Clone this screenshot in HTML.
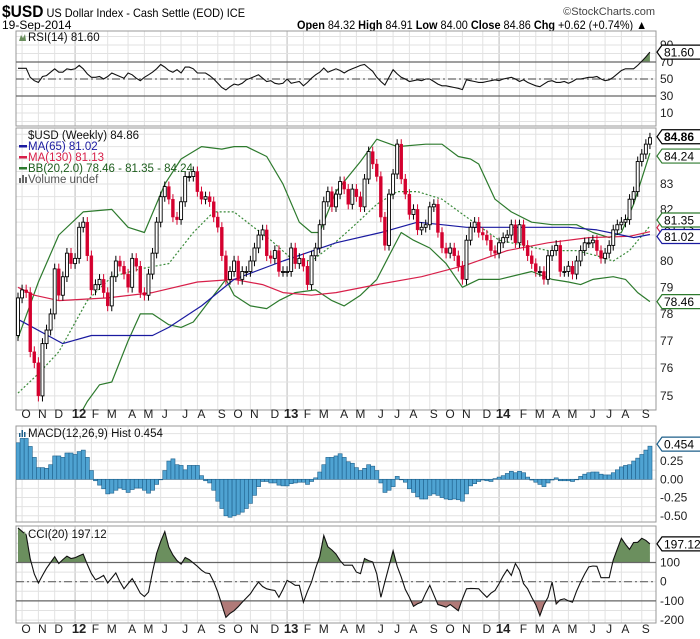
<!DOCTYPE html>
<html><head><meta charset="utf-8"><title>$USD chart</title>
<style>
html,body{margin:0;padding:0;background:#fff;}
svg{display:block;font-family:"Liberation Sans",Arial,sans-serif;}
</style></head>
<body>
<svg id="chart" xmlns="http://www.w3.org/2000/svg" width="700" height="639" viewBox="0 0 700 639">
<rect x="0" y="0" width="700" height="639" fill="#fff"/>
<g>
<text x="2" y="17" textLength="243" lengthAdjust="spacingAndGlyphs" font-size="12" fill="#000"><tspan font-size="17" font-weight="bold">$USD</tspan> US Dollar Index - Cash Settle (EOD) ICE</text>
<text x="655" y="15" text-anchor="end" font-size="11" fill="#444">©StockCharts.com</text>
<text x="2" y="29" font-size="12" fill="#000">19-Sep-2014</text>
<text x="297" y="29" textLength="350" lengthAdjust="spacingAndGlyphs" font-size="12" fill="#000"><tspan font-weight="bold">Open</tspan> 84.32 <tspan font-weight="bold">High</tspan> 84.91 <tspan font-weight="bold">Low</tspan> 84.00 <tspan font-weight="bold">Close</tspan> 84.86 <tspan font-weight="bold">Chg</tspan> +0.62 (+0.74%) ▲</text>
</g>
<g id="grid"></g>
<g id="marks"></g>
<g id="labels"></g>
</svg>
<script>
// ---- data (weekly, first bar 30-Sep-2011, last 19-Sep-2014) ----
const firstOpen = 77.2;
const closes = [78.6,78.9,78.8,76.6,76.2,75.0,76.9,77.4,78.0,79.7,78.7,79.4,80.3,79.9,80.1,81.3,81.5,80.2,78.9,79.1,79.3,78.8,78.3,79.4,80.0,79.8,79.5,79.0,80.1,79.8,78.8,78.7,79.5,80.3,81.5,82.5,82.9,82.4,81.7,81.6,82.3,83.3,83.3,83.5,82.7,82.4,82.5,82.3,81.7,81.3,80.2,79.3,79.6,80.0,79.3,
79.6,79.6,80.0,80.5,81.0,81.2,80.2,80.1,80.4,79.6,79.6,79.6,80.5,79.9,80.1,79.8,79.1,80.2,80.5,81.4,82.3,82.7,82.1,82.6,83.1,82.8,82.2,82.8,82.5,82.1,83.2,84.3,83.8,83.3,81.7,80.6,82.6,83.4,84.6,83.2,82.6,81.8,82.0,81.2,81.3,81.4,82.1,82.2,81.1,80.5,80.3,80.5,80.2,79.8,79.3,80.8,81.3,
81.5,81.1,81.0,80.8,80.4,80.3,80.7,80.9,81.0,81.4,80.7,81.4,80.6,80.2,79.9,79.6,79.6,79.3,80.2,80.4,80.6,79.6,79.6,79.8,79.5,80.0,80.4,80.7,80.7,80.8,80.4,80.1,80.3,80.6,81.2,81.4,81.5,81.6,82.4,82.7,83.9,84.2,84.6,84.86];
const ma65Weeks = [0,11,18,33,37,45,53,65,78,89,98,104,110,120,135,142,148,151,155];
const ma65Vals = [77.8,76.9,77.2,77.2,77.5,78.3,79.3,80.0,80.7,81.1,81.5,81.4,81.3,81.3,81.3,81.2,81.0,80.9,81.02];
const ma130Weeks = [0,4,10,22,33,44,53,60,65,72,78,88,99,110,120,130,140,150,155];
const ma130Vals = [79.0,78.7,78.5,78.6,78.8,79.2,79.3,79.1,78.8,78.7,78.8,79.1,79.4,79.85,80.4,80.7,80.9,80.95,81.13];
const bbMidWeeks = [0,5,10,17,23,30,37,43,48,53,57,62,67,72,77,82,88,93,98,104,110,118,124,130,137,142,146,150,155];
const bbMidVals = [75.1,75.8,76.6,78.5,79.4,79.7,79.9,81.1,81.9,81.9,81.4,80.8,80.1,80.0,80.6,81.3,82.2,82.7,82.7,82.4,81.7,80.8,80.6,80.4,80.4,80.2,80.0,80.4,81.35];
const bbUpWeeks = [0,5,10,16,23,27,31,36,40,45,50,53,56,61,65,69,72,74,78,84,88,93,100,104,108,111,113,117,121,126,131,137,141,145,148,151,155];
const bbUpVals = [77.1,79.2,81.0,81.9,82.0,81.3,81.1,83.0,84.0,84.5,84.4,84.5,84.5,84.1,83.0,81.5,81.1,81.1,82.7,83.9,84.8,84.5,84.6,84.6,84.1,84.0,83.8,82.4,81.9,81.5,81.4,81.4,81.1,80.9,81.1,82.2,84.24];
const bbLoWeeks = [0,5,10,17,20,23,27,30,33,37,40,43,47,51,53,57,61,64,68,73,77,80,84,88,91,94,97,101,105,109,113,118,126,131,135,138,141,146,149,152,155];
const bbLoVals = [73.5,72.5,73.0,74.8,75.4,75.5,77.0,78.0,78.0,77.6,77.5,77.7,78.5,79.3,78.7,78.3,78.2,78.5,78.8,78.9,78.5,78.3,78.7,79.3,80.2,81.1,80.8,80.5,79.9,79.0,79.3,79.3,79.6,79.3,79.2,79.1,79.3,79.4,79.3,78.8,78.46];
const rsiVals = [62.6,62.6,62.6,52,48,46,53,54,58,62,58,58,62,61,62,66,62,56,52,52,53,50,53,57,55,53,51,57,55,51,48,52,55,58,62,67,64,60,58,61,57,64,64,62,57,57,57,54,50,45,40,37,41,44,43,45,49,51,53,55,51,47,48,45,44,45,50,45,46,47,42,46,51,55,58,63,58,60,62,60,57,60,62,64,66,67,63,59,52,47,43,52,61,56,52,50,47,48,49,48,50,50,47,44,42,42,41,40,39,37.5,49,48,47,46,46,47,48,49,48,50,51,52,50,47,49,46,44,42,41,44,47,48,46,46,47,45,47,50,50,51,52,52,53,50,48,49,52,56,60,62,62,62,66,71,76,81.6];
const macdVals = [0.50,0.56,0.56,0.45,0.30,0.16,0.16,0.15,0.20,0.32,0.32,0.30,0.36,0.36,0.34,0.38,0.40,0.30,0.12,-0.02,-0.08,-0.13,-0.20,-0.19,-0.15,-0.12,-0.14,-0.18,-0.14,-0.12,-0.12,-0.15,-0.19,-0.15,-0.07,0.0,0.12,0.25,0.28,0.20,0.19,0.13,0.19,0.19,0.19,0.05,-0.02,-0.05,-0.15,-0.30,-0.40,-0.50,-0.52,-0.50,-0.48,-0.45,-0.40,-0.33,-0.22,-0.10,-0.03,-0.03,-0.05,-0.05,-0.08,-0.09,-0.09,-0.06,-0.05,-0.04,-0.04,-0.07,-0.03,0.02,0.10,0.20,0.30,0.30,0.32,0.35,0.30,0.24,0.22,0.16,0.12,0.15,0.20,0.18,0.12,-0.05,-0.18,-0.15,-0.10,0.04,0.0,-0.04,-0.13,-0.18,-0.24,-0.27,-0.27,-0.22,-0.20,-0.22,-0.25,-0.27,-0.28,-0.27,-0.28,-0.30,-0.20,-0.09,-0.06,-0.03,-0.01,-0.02,-0.03,0.01,0.03,0.05,0.08,0.11,0.09,0.11,0.09,0.03,-0.01,-0.04,-0.07,-0.10,-0.05,-0.01,0.02,-0.02,-0.02,-0.02,-0.03,0.0,0.04,0.07,0.09,0.10,0.10,0.07,0.06,0.06,0.09,0.13,0.17,0.19,0.20,0.25,0.29,0.34,0.40,0.454];
const cciVals = [280,262,244,120,40,-7,33,70,100,130,95,115,133,121,125,135,144,90,42,10,20,33,-7,20,46,0,-37,-10,16,-20,-60,-77,-54,50,147,210,261,180,139,110,91,126,115,98,80,60,46,42,0,-54,-120,-186,-165,-151,-130,-107,-85,-63,-30,-2,-25,-37,-42,-46,-81,-40,7,-5,-19,-19,-107,-50,-2,70,130,240,182,165,144,110,86,86,86,50,42,121,110,103,40,-81,0,80,161,80,25,-40,-81,-128,-115,-107,-60,-19,-70,-119,-125,-133,-119,-135,-151,-90,-37,-35,-36,-37,-60,-81,-60,-46,-10,30,63,33,95,60,-10,-37,-81,-120,-177,-120,-81,-2,-116,-95,-89,-100,-107,-50,-2,40,77,82,80,21,21,21,112,170,226,195,168,204,205,226,215,197];
const priceTicks = [75,76,77,78,79,80,81,82,83,84];
const rsiTicks = [90,70,50,30,10];
const macdTicks = ["0.25","0.00","-0.25","-0.50"];
const cciTicks = [100,0,-100,-200];
const monthLetters = ["J","F","M","A","M","J","J","A","S","O","N","D"];

// ---- geometry ----
const NS = "http://www.w3.org/2000/svg";
const L = 16, R = 656;
const P = {rsi:[31,126], main:[128,410], macd:[426,522], cci:[526,623]};
const xs = i => 18 + i * 4.077;
const priceY = p => 261 - 2090 * Math.log(p / 80);
const rsiY = v => 79 - (v - 50) * 0.85;
const macdY = v => 479.3 - v * 73;
const cciY = v => 581.7 - v * 0.192;

const svg = document.getElementById('chart');
const grid = document.getElementById('grid');
const marks = document.getElementById('marks');
const labels = document.getElementById('labels');
function mk(tag, attrs, parent) {
  const e = document.createElementNS(NS, tag);
  for (const k in attrs) e.setAttribute(k, attrs[k]);
  (parent || marks).appendChild(e);
  return e;
}
// clip paths
const defs = mk('defs', {}, svg);
svg.insertBefore(defs, svg.firstChild);
for (const k in P) {
  const cp = mk('clipPath', {id: 'clip-' + k}, defs);
  mk('rect', {x: L, y: P[k][0], width: R - L, height: P[k][1] - P[k][0]}, cp);
}
function addClip(id, y0, y1) {
  const cp = mk('clipPath', {id: id}, defs);
  mk('rect', {x: L, y: y0, width: R - L, height: y1 - y0}, cp);
}
addClip('clip-rsi-hi', P.rsi[0], rsiY(70));
addClip('clip-cci-hi', P.cci[0], cciY(100));
addClip('clip-cci-lo', cciY(-100), P.cci[1]);

// ---- month grid ----
const base = Date.UTC(2011, 8, 30);
const months = [];
for (let y = 2011; y <= 2014; y++) for (let m = 0; m < 12; m++) {
  const d = Date.UTC(y, m, 1);
  const idx = Math.ceil((d - base) / (7 * 864e5));
  if (idx < 0 || idx > 155) continue;
  months.push({idx: idx, y: y, m: m});
}
months.forEach(mo => {
  const x = xs(mo.idx);
  for (const k in P) {
    const ln = mk('line', {x1: x, x2: x, y1: P[k][0], y2: P[k][1], stroke: mo.m === 0 ? '#bbb' : '#e2e2e2', 'stroke-width': 1}, grid);
    
    
  }
  [418, 633].forEach(ty => {
    const t = mk('text', {x: x + 4, y: ty, 'text-anchor': 'middle', 'font-size': mo.m === 0 ? 13 : 12, 'font-weight': mo.m === 0 ? 'bold' : 'normal', fill: '#222'}, labels);
    t.textContent = mo.m === 0 ? String(mo.y % 100).padStart(2, '0') : monthLetters[mo.m];
    
    
  });
});
// horizontal grids
function hgrid(vals, fy, panel) {
  vals.forEach(v => {
    const y = fy(v);
    if (y < P[panel][0] || y > P[panel][1]) return;
    const ln = mk('line', {x1: L, x2: R, y1: y, y2: y, stroke: '#e2e2e2', 'stroke-width': 1}, grid);
    
    
  });
}
const rsiG = []; for (let v = 0; v <= 100; v += 10) rsiG.push(v);
const priceG = []; for (let v = 74; v <= 86; v += 0.5) priceG.push(v);
const macdG = []; for (let v = -0.625; v <= 0.75; v += 0.125) macdG.push(v);
const cciG = []; for (let v = -250; v <= 300; v += 50) cciG.push(v);
hgrid(rsiG, rsiY, 'rsi'); hgrid(priceG, priceY, 'main'); hgrid(macdG, macdY, 'macd'); hgrid(cciG, cciY, 'cci');

// panel frames
for (const k in P) {
  const r = mk('rect', {x: L, y: P[k][0], width: R - L, height: P[k][1] - P[k][0], fill: 'none', stroke: '#999', 'stroke-width': 1}, grid);
  
  
}

// ---- RSI ----
function linePath(vals, fy) { return vals.map((v, i) => (i ? 'L' : 'M') + xs(i).toFixed(1) + ',' + fy(v).toFixed(1)).join(''); }
function areaPath(vals, fy, level) {
  return 'M' + xs(0) + ',' + fy(level) + vals.map((v, i) => 'L' + xs(i).toFixed(1) + ',' + fy(v).toFixed(1)).join('') + 'L' + xs(vals.length - 1) + ',' + fy(level) + 'Z';
}
const rsiFill = mk('path', {d: areaPath(rsiVals, rsiY, 70), fill: '#6b8f5e', 'clip-path': 'url(#clip-rsi-hi)'});


[[70, 'none'], [30, 'none'], [50, '8 3 2 3']].forEach(a => {
  const ln = mk('line', {x1: L, x2: R, y1: rsiY(a[0]), y2: rsiY(a[0]), stroke: '#666', 'stroke-width': 1.2, 'stroke-dasharray': a[1]});
  
  
});
const rsiLine = mk('path', {d: linePath(rsiVals, rsiY), fill: 'none', stroke: '#111', 'stroke-width': 1.1, 'clip-path': 'url(#clip-rsi)'});



// ---- main price ----
function sparseLine(weeks, vals, color, dash, name, w) {
  const d = weeks.map((wk, i) => (i ? 'L' : 'M') + xs(wk).toFixed(1) + ',' + priceY(vals[i]).toFixed(1)).join('');
  const p = mk('path', {d: d, fill: 'none', stroke: color, 'stroke-width': w || 1.2, 'stroke-dasharray': dash, 'stroke-linejoin': 'round', 'clip-path': 'url(#clip-main)'});
  
  
}
sparseLine(bbMidWeeks, bbMidVals, '#3a8a3a', '2 2', 'bb-middle-line');
sparseLine(bbUpWeeks, bbUpVals, '#2d7a2d', 'none', 'bb-upper-line');
sparseLine(bbLoWeeks, bbLoVals, '#2d7a2d', 'none', 'bb-lower-line');
sparseLine(ma130Weeks, ma130Vals, '#d8204a', 'none', 'ma130-line');
sparseLine(ma65Weeks, ma65Vals, '#1a1aa0', 'none', 'ma65-line');
const cg = mk('g', {'clip-path': 'url(#clip-main)'});


closes.forEach((c, i) => {
  const o = i ? closes[i - 1] : firstOpen;
  const up = c >= o;
  const hi = Math.max(o, c), lo = Math.min(o, c);
  const x = xs(i);
  const col = up ? '#000' : '#d4002e';
  const wk = mk('line', {x1: x, x2: x, y1: priceY(hi + 0.2), y2: priceY(lo - 0.2), stroke: col, 'stroke-width': 1}, cg);
  
  
  const top = priceY(hi), h = Math.max(1, priceY(lo) - top);
  const b = mk('rect', {x: x - 1.5, y: top, width: 3, height: h, fill: up ? '#fff' : '#d4002e', stroke: col, 'stroke-width': up ? 0.9 : 0.4}, cg);
  
  
});

// ---- MACD ----
macdVals.forEach((v, i) => {
  const y0 = macdY(0), y1 = macdY(v);
  const r = mk('rect', {x: xs(i) - 2, y: Math.min(y0, y1), width: 4.077, height: Math.max(0.5, Math.abs(y1 - y0)), fill: '#4fa3d2', stroke: '#1d5f8a', 'stroke-width': 0.6, 'clip-path': 'url(#clip-macd)'});
  
  
});

// ---- CCI ----
const cHi = mk('path', {d: areaPath(cciVals, cciY, 100), fill: '#6b8f5e', 'clip-path': 'url(#clip-cci-hi)'});


const cLo = mk('path', {d: areaPath(cciVals, cciY, -100), fill: '#b07a78', 'clip-path': 'url(#clip-cci-lo)'});


[[100, 'none'], [-100, 'none'], [0, '8 3 2 3']].forEach(a => {
  const ln = mk('line', {x1: L, x2: R, y1: cciY(a[0]), y2: cciY(a[0]), stroke: '#666', 'stroke-width': 1.2, 'stroke-dasharray': a[1]});
  
  
});
const cciLine = mk('path', {d: linePath(cciVals, cciY), fill: 'none', stroke: '#111', 'stroke-width': 1.1, 'clip-path': 'url(#clip-cci)'});



// ---- right axis labels ----
function axisLabels(vals, fy, name) {
  vals.forEach(v => {
    const t = mk('text', {x: 660, y: fy(parseFloat(v)) + 4, 'font-size': 12, fill: '#222'}, labels);
    t.textContent = v;
    
    
  });
}
axisLabels(priceTicks, priceY, 'price-tick-label');
axisLabels(rsiTicks, rsiY, 'rsi-tick-label');
axisLabels(macdTicks, macdY, 'macd-tick-label');
axisLabels(cciTicks, cciY, 'cci-tick-label');

// value tags
function tag(txt, y, color, bold, name) {
  const w = txt.length * 6.6 + 6;
  const p = mk('path', {d: `M657,${y} L662,${y - 7} L${662 + w},${y - 7} L${662 + w},${y + 7} L662,${y + 7} Z`, fill: '#fff', stroke: color, 'stroke-width': 1.2}, labels);
  
  
  const t = mk('text', {x: 664, y: y + 4.5, 'font-size': 12, 'font-weight': bold ? 'bold' : 'normal', fill: '#000'}, labels);
  t.textContent = txt;
  
  
}
tag('81.60', rsiY(81.6), '#000', false, 'rsi-value-tag');
tag('78.46', priceY(78.46), '#2d7a2d', false, 'bb-lower-tag');
tag('81.13', priceY(81.13) - 4, '#d8204a', false, 'ma130-tag');
tag('81.35', priceY(81.35) - 6, '#2d7a2d', false, 'bb-middle-tag');
tag('81.02', priceY(81.02) + 2, '#1a1aa0', false, 'ma65-tag');
tag('84.24', priceY(84.24) + 3, '#2d7a2d', false, 'bb-upper-tag');
tag('84.86', priceY(84.86) - 1, '#000', true, 'price-tag');
tag('0.454', macdY(0.454) - 2, '#1d5f8a', false, 'macd-value-tag');
tag('197.12', cciY(197.12), '#000', false, 'cci-value-tag');

// legends
function legendText(x, y, txt, color, name) {
  const t = mk('text', {x: x, y: y, 'font-size': 11.5, fill: color}, labels);
  t.textContent = txt;
  
  
}
function swatch(y, color, name) {
  const s = mk('rect', {x: 19, y: y - 5, width: 8, height: 2.5, fill: color}, labels);
  
  
}
legendText(28, 41, 'RSI(14) 81.60', '#111', 'rsi-legend');
const ri = mk('path', {d: 'M19,41 L21,35 L23,38 L25,34 L26,41 Z', fill: '#6b8f5e'}, labels);


legendText(28, 139, '$USD (Weekly) 84.86', '#111', 'price-legend');
legendText(28, 150, 'MA(65) 81.02', '#1a1aa0', 'ma65-legend');
swatch(150, '#1a1aa0', 'ma65-legend-swatch');
legendText(28, 161, 'MA(130) 81.13', '#d8204a', 'ma130-legend');
swatch(161, '#d8204a', 'ma130-legend-swatch');
legendText(28, 172, 'BB(20,2.0) 78.46 - 81.35 - 84.24', '#1d5e1d', 'bb-legend');
swatch(172, '#2d7a2d', 'bb-legend-swatch');
legendText(28, 183, 'Volume undef', '#555', 'volume-legend');
const vi = mk('path', {d: 'M19,183 v-5 h2 v5 M22,183 v-8 h2 v8 M25,183 v-6 h2 v6', fill: '#666'}, labels);


legendText(28, 437, 'MACD(12,26,9) Hist 0.454', '#111', 'macd-legend');
const mi = mk('path', {d: 'M19,437 v-4 h1.5 v4 M21.5,437 v-7 h1.5 v7 M24,437 v-5 h1.5 v5', fill: '#1d5f8a'}, labels);


legendText(28, 538, 'CCI(20) 197.12', '#111', 'cci-legend');
const ci = mk('path', {d: 'M19,538 L21,532 L23,535 L25,531 L26,538 Z', fill: '#6b8f5e'}, labels);


</script>
</body></html>
